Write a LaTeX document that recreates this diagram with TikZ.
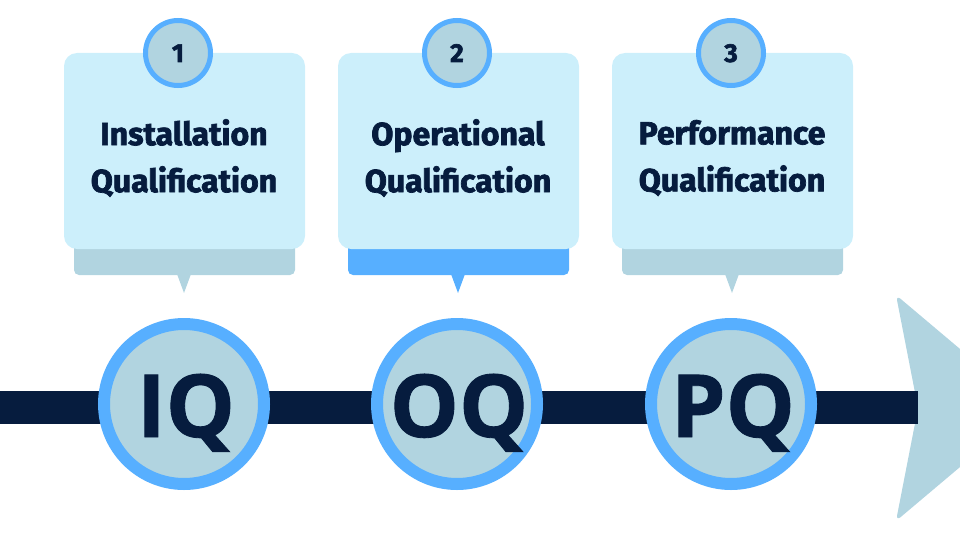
\documentclass[tikz,border=0pt]{standalone}
\usepackage{fontspec}
\setmainfont{Fira Sans}[BoldFeatures={FakeBold=2.2}]
\newfontfamily\bigfont{Open Sans}[BoldFeatures={FakeBold=1}]
\definecolor{navy}{HTML}{061C3E}
\definecolor{pale}{HTML}{CCEFFB}
\definecolor{steel}{HTML}{B1D4E0}
\definecolor{sky}{HTML}{57AFFF}
\tikzset{
  ring/.style={circle, draw=sky, line width=12pt, fill=steel, minimum size=160pt, inner sep=0pt},
  numring/.style={circle, draw=sky, line width=5pt, fill=steel, minimum size=65pt, inner sep=0pt},
  bigtxt/.style={anchor=base, text=navy, font=\bigfont\bfseries\fontsize{87}{87}\selectfont},
  numtxt/.style={anchor=base, text=navy, font=\bfseries\fontsize{26}{26}\selectfont},
  titletxt/.style={align=center, text=navy, font=\bfseries\fontsize{32}{47}\selectfont},
}
\begin{document}
\begin{tikzpicture}[x=1pt,y=-1pt]
\useasboundingbox (0,0) rectangle (960,540);
% arrow head
\fill[steel, rounded corners=6pt] (896,295) -- (1030,408) -- (896,521) -- (918,408) -- cycle;
% bar
\fill[navy] (0,391) rectangle (918,424);
% callouts
\foreach \cx/\sh/\n in {184/steel/a, 458/sky/b, 732/steel/c}{
  \fill[\sh, rounded corners=5pt] (\cx-110,238) rectangle (\cx+111,275);
  \fill[\sh] (\cx-7,274) -- (\cx,293) -- (\cx+7,274) -- cycle;
  \fill[pale, rounded corners=13pt] (\cx-120,53) rectangle (\cx+121,249);
}
\node[titletxt] (t1) at (184,158) {Installation\\Qualification};
\node[titletxt] (t2) at (458,158) {Operational\\Qualification};
\node[titletxt] (t3) at (732,158) {Performance\\Qualification};
% number badges
\node[numring] (n1) at (178,53) {};
\node[numring] (n2) at (457,53) {};
\node[numring] (n3) at (731,53) {};
\node[numtxt] at ([yshift=-9pt]n1.center) {1};
\node[numtxt] at ([yshift=-9pt]n2.center) {2};
\node[numtxt] at ([yshift=-9pt]n3.center) {3};
% big circles
\node[ring] (c1) at (184,404) {};
\node[ring] (c2) at (457,404) {};
\node[ring] (c3) at (731,404) {};
\node[bigtxt] (l1) at (186,437) {IQ};
\node[bigtxt] (l2) at (459,437) {OQ};
\node[bigtxt] (l3) at (733,437) {PQ};
\end{tikzpicture}
\end{document}
